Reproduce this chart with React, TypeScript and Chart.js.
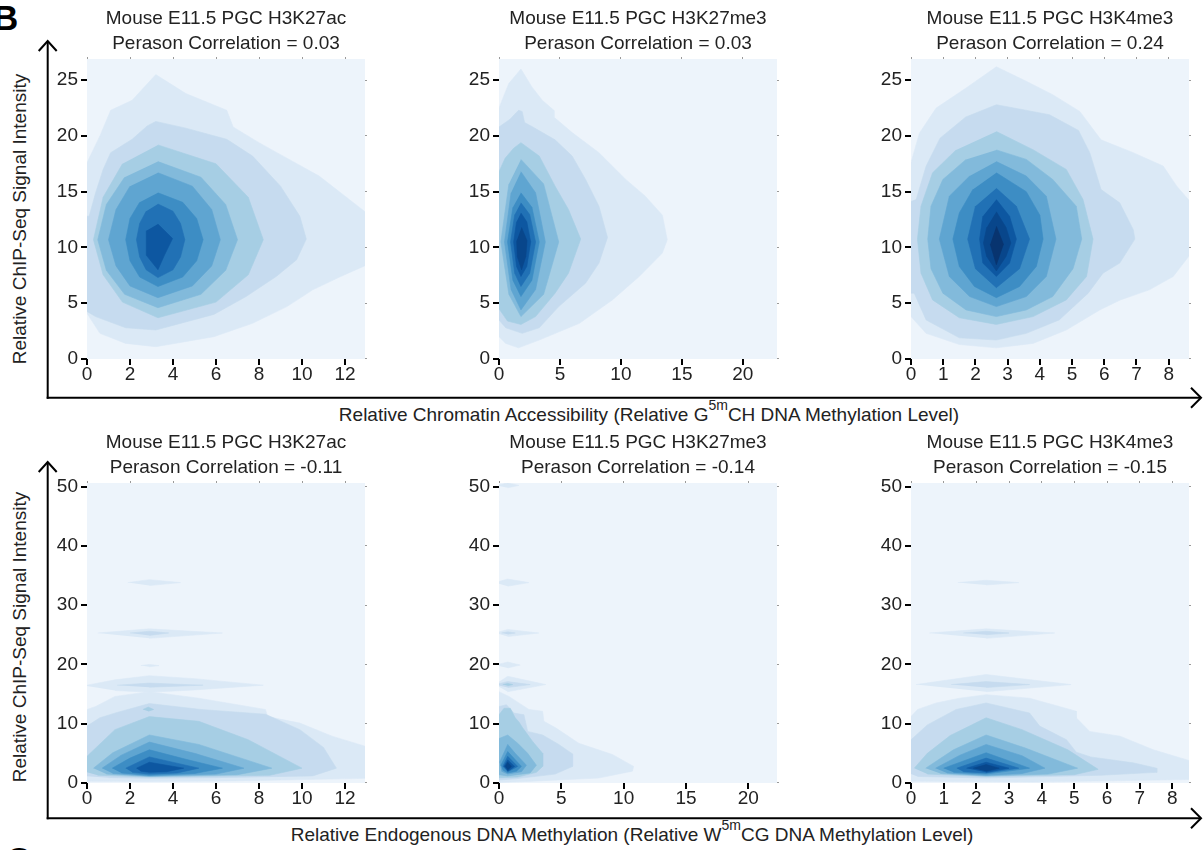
import React, { useEffect, useRef } from "react";
import { Chart, registerables } from "chart.js";

Chart.register(...registerables);

const FONT = "'Liberation Sans', Arial, Helvetica, sans-serif";
const TEXT = "#222222";

// ---------- categories / labels ----------
const MARKS = ["H3K27ac", "H3K27me3", "H3K4me3"];
const CORR_TOP = ["0.03", "0.03", "0.24"];
const CORR_BOTTOM = ["-0.11", "-0.14", "-0.15"];

// ---------- tick values ----------
const X_TICKS_AC = [0, 2, 4, 6, 8, 10, 12];
const X_TICKS_ME3 = [0, 5, 10, 15, 20];
const X_TICKS_K4 = [0, 1, 2, 3, 4, 5, 6, 7, 8];
const Y_TICKS_TOP = [0, 5, 10, 15, 20, 25];
const Y_TICKS_BOTTOM = [0, 10, 20, 30, 40, 50];

// ---------- axis ranges ----------
const X_MAX_TOP = [12.93, 22.8, 8.63];
const X_MAX_BOTTOM = [12.93, 22.3, 8.51];
const Y_MAX_TOP = 26.9;
const Y_MAX_BOTTOM = 50.6;

type Contour = { level: number; pts: number[][] };

// ---------- density contour outlines (x, y) ----------
const TOP_AC: Contour[] = [
  { level: 1, pts: [[-0.2, 17.6], [0, 17.6], [0.6, 20.0], [1.1, 22.3], [2.1, 23.2], [3.2, 25.5], [4.6, 23.8], [6.5, 22.3], [6.8, 20.8], [8.0, 19.4], [9.4, 17.9], [10.8, 16.4], [12.2, 14.3], [13.2, 12.8], [13.2, 8.6], [11.8, 7.4], [10.5, 6.2], [9.3, 4.7], [7.7, 3.2], [5.9, 2.0], [3.2, 1.1], [1.8, 1.4], [0.6, 2.3], [0, 4.1], [-0.2, 4.1]] },
  { level: 2, pts: [[-0.2, 12.8], [0.1, 12.8], [0.4, 14.9], [0.75, 17.0], [1.1, 18.5], [2.1, 19.7], [2.8, 20.9], [3.2, 21.3], [4.6, 20.7], [6.5, 19.7], [7.7, 18.2], [9.0, 15.5], [9.9, 12.8], [10.2, 10.75], [9.75, 8.9], [8.8, 7.4], [7.4, 5.6], [5.9, 4.0], [3.2, 2.6], [1.8, 2.8], [0.4, 3.8], [-0.2, 4.5]] },
  { level: 3, pts: [[3.3, 19.2], [6.0, 17.5], [7.5, 14.5], [8.2, 10.7], [7.5, 7.55], [6.0, 5.1], [3.3, 3.7], [1.65, 5.1], [0.75, 7.55], [0.3, 10.7], [0.75, 14.5], [1.65, 17.5]] },
  { level: 4, pts: [[3.3, 17.7], [5.3, 16.3], [6.45, 13.85], [7.0, 10.7], [6.45, 7.95], [5.3, 5.8], [3.3, 4.6], [1.75, 5.8], [0.9, 7.95], [0.5, 10.7], [0.9, 13.85], [1.75, 16.3]] },
  { level: 5, pts: [[3.3, 16.7], [4.9, 15.5], [5.8, 13.4], [6.2, 10.7], [5.8, 8.35], [4.9, 6.55], [3.3, 5.5], [2.0, 6.55], [1.35, 8.35], [1.0, 10.7], [1.35, 13.4], [2.0, 15.5]] },
  { level: 6, pts: [[3.3, 14.9], [4.45, 14.05], [5.1, 12.6], [5.4, 10.7], [5.1, 8.8], [4.45, 7.35], [3.3, 6.5], [2.45, 7.35], [2.0, 8.8], [1.8, 10.7], [2.0, 12.6], [2.45, 14.05]] },
  { level: 7, pts: [[3.3, 13.9], [4.0, 13.25], [4.35, 12.15], [4.55, 10.7], [4.35, 9.15], [4.0, 8.0], [3.3, 7.3], [2.75, 8.0], [2.45, 9.15], [2.3, 10.7], [2.45, 12.15], [2.75, 13.25]] },
  { level: 8, pts: [[3.3, 12.1], [3.98, 10.8], [3.6, 9.3], [3.3, 8.0], [2.76, 9.3], [2.76, 11.5]] },
];

const TOP_ME3: Contour[] = [
  { level: 1, pts: [[-0.3, 22.5], [0, 22.5], [0.8, 24.7], [1.8, 26.0], [2.7, 24.4], [3.55, 23.2], [4.5, 22.3], [4.5, 21.7], [6.0, 20.3], [8.2, 18.5], [10.4, 16.1], [12.0, 14.6], [13.4, 12.9], [13.8, 10.7], [13.4, 9.5], [11.5, 7.4], [9.3, 5.3], [6.6, 3.2], [3.3, 1.7], [1.6, 1.0], [0.55, 1.4], [0, 2.0], [-0.3, 2.0]] },
  { level: 2, pts: [[-0.3, 20.8], [0, 20.8], [0.9, 21.5], [1.6, 22.3], [1.9, 22.2], [2.1, 21.2], [2.7, 20.85], [4.6, 19.65], [6.0, 18.2], [7.1, 16.1], [8.2, 13.7], [8.9, 10.9], [8.2, 8.6], [7.1, 6.8], [4.9, 4.7], [3.3, 2.8], [1.9, 2.3], [0.55, 2.8], [0, 3.5], [-0.3, 3.5]] },
  { level: 3, pts: [[-0.3, 16.8], [0, 16.8], [0.5, 18.0], [1.2, 18.9], [1.8, 19.4], [3.3, 18.2], [4.6, 15.5], [5.7, 13.4], [6.7, 10.75], [5.7, 7.7], [4.6, 5.9], [3.0, 3.8], [1.8, 3.1], [0.7, 3.4], [0, 4.5], [-0.3, 4.5]] },
  { level: 4, pts: [[1.8, 17.9], [3.66, 15.7], [4.9, 10.5], [3.66, 5.8], [1.8, 3.8], [0.81, 5.8], [0.15, 10.5], [0.81, 15.7]] },
  { level: 5, pts: [[1.8, 16.8], [3.0, 14.9], [3.8, 10.5], [3.0, 6.23], [1.8, 4.4], [0.99, 6.23], [0.45, 10.5], [0.99, 14.9]] },
  { level: 6, pts: [[1.8, 14.9], [2.7, 13.6], [3.3, 10.5], [2.7, 7.07], [1.8, 5.6], [1.14, 7.07], [0.7, 10.5], [1.14, 13.6]] },
  { level: 7, pts: [[1.8, 14.0], [2.52, 12.95], [3.0, 10.5], [2.52, 7.7], [1.8, 6.5], [1.29, 7.7], [0.95, 10.5], [1.29, 12.95]] },
  { level: 8, pts: [[1.8, 13.1], [2.28, 12.3], [2.6, 10.5], [2.28, 8.3], [1.8, 7.4], [1.44, 8.3], [1.2, 10.5], [1.44, 12.3]] },
  { level: 9, pts: [[1.85, 11.8], [2.3, 10.6], [2.2, 9.2], [1.85, 8.0], [1.5, 9.2], [1.45, 10.6]] },
];

const TOP_K4: Contour[] = [
  { level: 1, pts: [[-0.1, 17.6], [0, 17.6], [0.26, 20.25], [0.78, 22.5], [1.71, 24.3], [2.65, 26.2], [3.58, 24.9], [4.4, 23.7], [5.24, 22.2], [5.9, 19.65], [6.9, 18.5], [7.83, 17.3], [8.25, 15.5], [8.7, 14.0], [8.7, 9.5], [8.14, 7.4], [7.4, 6.2], [6.5, 5.3], [5.86, 4.4], [4.82, 2.6], [3.79, 1.4], [2.65, 1.0], [1.5, 1.3], [0.47, 2.3], [0, 3.8], [-0.1, 3.8]] },
  { level: 2, pts: [[-0.1, 5.9], [0.1, 5.9], [0.47, 3.5], [1.5, 1.9], [2.65, 1.7], [3.58, 2.3], [4.6, 3.5], [5.5, 5.9], [5.96, 7.7], [6.48, 8.6], [6.95, 10.75], [6.9, 11.6], [6.48, 14.0], [5.9, 15.2], [5.55, 18.5], [5.2, 20.5], [4.3, 21.9], [3.4, 22.4], [2.65, 22.8], [1.7, 21.7], [0.9, 19.8], [0.47, 17.3], [0.16, 14.3], [-0.1, 14.0]] },
  { level: 3, pts: [[2.65, 20.4], [3.8, 18.75], [4.82, 17.0], [5.34, 14.3], [5.65, 10.75], [5.45, 7.4], [4.82, 5.3], [3.79, 3.8], [2.65, 3.1], [1.5, 3.7], [0.67, 5.3], [0.31, 7.7], [0.2, 10.75], [0.31, 13.7], [0.67, 16.7], [1.4, 18.75]] },
  { level: 4, pts: [[2.65, 18.75], [3.58, 17.9], [4.4, 16.1], [5.13, 13.7], [5.3, 10.75], [5.03, 8.1], [4.4, 5.6], [3.58, 4.4], [2.65, 3.8], [1.71, 4.4], [0.99, 5.9], [0.62, 8.1], [0.52, 10.75], [0.62, 13.7], [0.99, 16.1], [1.71, 17.9]] },
  { level: 5, pts: [[2.65, 17.7], [3.58, 16.4], [4.2, 14.6], [4.5, 10.75], [4.2, 7.4], [3.58, 5.6], [2.65, 4.7], [1.82, 5.6], [1.19, 7.4], [0.88, 10.75], [1.19, 14.6], [1.82, 16.4]] },
  { level: 6, pts: [[2.65, 16.7], [3.58, 15.0], [4.0, 12.9], [4.1, 10.75], [3.89, 8.3], [3.37, 6.5], [2.65, 5.5], [1.97, 6.5], [1.5, 8.3], [1.3, 10.75], [1.5, 13.1], [1.92, 15.2]] },
  { level: 7, pts: [[2.65, 15.3], [3.27, 13.7], [3.68, 10.75], [3.37, 8.1], [2.65, 6.4], [2.0, 8.1], [1.76, 10.75], [2.0, 13.7]] },
  { level: 8, pts: [[2.65, 14.3], [3.06, 12.8], [3.27, 10.75], [3.06, 8.6], [2.65, 7.4], [2.23, 8.6], [2.13, 10.75], [2.23, 12.8]] },
  { level: 9, pts: [[2.65, 13.2], [2.95, 11.8], [3.1, 10.4], [2.95, 9.2], [2.65, 7.9], [2.35, 9.2], [2.25, 10.4], [2.35, 11.8]] },
  { level: 10, pts: [[2.65, 11.9], [2.87, 10.3], [2.65, 8.45], [2.46, 10.3]] },
];

const BOTTOM_AC: Contour[] = [
  { level: 1, pts: [[-0.2, 0.3], [-0.2, 12.4], [0, 12.4], [0.4, 12.9], [1.3, 14.6], [2.9, 15.4], [5.2, 14.3], [8.3, 12.4], [8.4, 11.2], [9.9, 10.1], [11.4, 7.9], [13.2, 5.9], [13.2, 0.8], [6.8, 0.35], [2.9, 0.25], [0, 0.3]] },
  { level: 1, pts: [[-0.2, 16.5], [0, 16.5], [1.3, 17.4], [2.9, 18.1], [5.0, 17.6], [8.2, 16.5], [5.0, 15.7], [2.9, 15.3], [1.3, 15.6]] },
  { level: 1, pts: [[0.5, 25.3], [2.9, 26.0], [6.3, 25.3], [2.9, 24.4]] },
  { level: 1, pts: [[1.9, 33.8], [2.9, 34.3], [4.35, 33.8], [2.9, 33.3]] },
  { level: 1, pts: [[2.5, 19.8], [2.9, 20.0], [3.35, 19.8], [2.9, 19.6]] },
  { level: 2, pts: [[1.4, 16.5], [2.9, 16.85], [5.4, 16.5], [2.9, 16.15]] },
  { level: 2, pts: [[2.0, 25.3], [2.9, 25.6], [3.8, 25.3], [2.9, 24.9]] },
  { level: 2, pts: [[-0.2, 1.2], [-0.2, 9.6], [0, 9.6], [0.6, 11.0], [1.4, 11.9], [2.9, 13.4], [5.3, 12.4], [8.3, 11.6], [9.9, 9.0], [11.0, 6.0], [11.6, 2.5], [10.5, 1.2], [6.0, 0.9], [2.9, 0.8], [1.0, 0.9]] },
  { level: 3, pts: [[2.6, 12.4], [2.85, 12.8], [3.1, 12.4], [2.85, 12.1]] },
  { level: 3, pts: [[-0.2, 2.0], [-0.2, 4.5], [0, 4.5], [1.3, 9.0], [2.9, 11.2], [5.2, 10.4], [7.5, 7.3], [10.0, 2.5], [8.5, 1.3], [2.9, 1.0], [0.5, 1.3]] },
  { level: 4, pts: [[0.3, 2.5], [1.2, 5.1], [2.9, 8.1], [5.2, 6.5], [8.6, 2.5], [7.0, 1.4], [2.9, 1.1], [0.9, 1.5]] },
  { level: 5, pts: [[0.7, 2.5], [1.6, 4.7], [2.9, 6.9], [5.0, 5.0], [7.3, 2.5], [6.0, 1.5], [2.9, 1.2], [1.2, 1.6]] },
  { level: 6, pts: [[1.17, 2.5], [2.0, 4.2], [2.9, 5.6], [4.6, 4.0], [6.3, 2.5], [5.0, 1.6], [2.9, 1.3], [1.6, 1.7]] },
  { level: 7, pts: [[1.8, 2.5], [2.9, 4.4], [5.2, 2.5], [4.2, 1.7], [2.9, 1.5], [2.1, 1.8]] },
  { level: 8, pts: [[2.3, 2.5], [2.9, 3.5], [4.5, 2.5], [3.7, 1.9], [2.9, 1.8], [2.5, 2.0]] },
];

const BOTTOM_ME3: Contour[] = [
  { level: 1, pts: [[-0.3, 0.1], [-0.3, 15.4], [0, 15.4], [0.8, 14.6], [2.4, 12.4], [3.5, 12.1], [3.6, 10.4], [4.55, 9.3], [6.4, 6.7], [9.1, 4.8], [10.8, 2.8], [10.7, 2.0], [8.0, 0.84], [2.7, 0.3], [0, 0.1]] },
  { level: 1, pts: [[-0.3, 50.2], [0.7, 50.6], [1.6, 50.2], [0.7, 49.8]] },
  { level: 1, pts: [[-0.3, 33.8], [0.7, 34.4], [2.4, 33.8], [0.7, 33.2]] },
  { level: 1, pts: [[-0.3, 25.3], [0.7, 25.9], [3.2, 25.3], [0.7, 24.7]] },
  { level: 1, pts: [[-0.3, 19.9], [0.7, 20.4], [1.7, 19.9], [0.7, 19.4]] },
  { level: 1, pts: [[-0.3, 16.6], [0.7, 18.0], [3.75, 16.6], [0.7, 15.4]] },
  { level: 2, pts: [[0.2, 25.3], [0.7, 25.5], [1.3, 25.3], [0.7, 25.1]] },
  { level: 2, pts: [[-0.3, 16.6], [0.7, 17.1], [2.5, 16.6], [0.7, 16.1]] },
  { level: 2, pts: [[-0.3, 0.5], [-0.3, 12.9], [0, 12.9], [0.6, 13.2], [1.2, 11.8], [2.0, 11.5], [2.3, 8.7], [3.5, 8.1], [4.8, 6.5], [5.9, 4.9], [5.9, 2.8], [4.5, 1.5], [1.3, 0.7], [0, 0.5]] },
  { level: 3, pts: [[0.3, 16.6], [0.7, 16.8], [1.1, 16.6], [0.7, 16.4]] },
  { level: 3, pts: [[-0.3, 0.9], [-0.3, 11.5], [0, 11.5], [0.4, 12.6], [0.9, 12.6], [1.3, 11.0], [1.6, 10.3], [1.9, 9.3], [2.7, 7.0], [3.5, 5.0], [3.5, 2.8], [3.0, 1.8], [1.5, 1.0], [0, 0.9]] },
  { level: 4, pts: [[-0.3, 1.4], [-0.3, 7.5], [0, 7.5], [0.7, 8.1], [1.5, 6.7], [2.3, 5.0], [3.0, 3.0], [2.5, 1.7], [0.7, 1.2], [0, 1.4]] },
  { level: 5, pts: [[0.05, 3.5], [0.7, 6.5], [1.3, 5.0], [2.2, 3.0], [1.8, 1.9], [0.7, 1.5], [0.2, 2.0]] },
  { level: 6, pts: [[0.15, 3.0], [0.7, 5.3], [1.8, 2.8], [1.4, 2.0], [0.7, 1.7], [0.3, 2.2]] },
  { level: 7, pts: [[0.3, 2.8], [0.7, 4.5], [1.5, 2.8], [0.7, 1.9]] },
  { level: 8, pts: [[0.4, 2.8], [0.7, 3.9], [1.25, 2.8], [0.7, 2.0]] },
  { level: 9, pts: [[0.5, 2.8], [0.7, 3.5], [1.0, 2.8], [0.7, 2.2]] },
];

const BOTTOM_K4: Contour[] = [
  { level: 1, pts: [[-0.1, 0.3], [-0.1, 11.2], [0, 11.2], [0.2, 12.4], [0.77, 13.5], [1.48, 14.3], [2.3, 14.9], [3.63, 14.3], [4.35, 13.2], [5.06, 12.1], [5.06, 11.0], [5.47, 8.7], [6.4, 7.9], [7.42, 5.6], [8.6, 3.65], [8.6, 0.6], [3.7, 0.15], [0, 0.3]] },
  { level: 1, pts: [[1.43, 33.8], [2.3, 34.2], [3.3, 33.8], [2.3, 33.4]] },
  { level: 1, pts: [[0.56, 25.3], [2.3, 26.0], [4.4, 25.3], [2.3, 24.4]] },
  { level: 1, pts: [[0.15, 16.6], [2.3, 18.3], [4.9, 16.6], [2.3, 15.4]] },
  { level: 2, pts: [[1.6, 25.3], [2.3, 25.6], [3.0, 25.3], [2.3, 25.0]] },
  { level: 2, pts: [[1.23, 16.6], [2.3, 17.1], [3.63, 16.6], [2.3, 16.1]] },
  { level: 2, pts: [[-0.1, 1.7], [-0.1, 7.3], [0, 7.3], [0.5, 9.8], [1.38, 12.4], [2.3, 13.5], [3.63, 11.8], [3.94, 9.6], [4.76, 7.3], [5.06, 5.2], [5.5, 4.4], [6.8, 3.4], [7.52, 2.5], [7.52, 1.8], [5.8, 1.3], [2.3, 0.84], [0.2, 1.1]] },
  { level: 3, pts: [[0.1, 2.5], [0.5, 5.0], [1.2, 8.0], [2.3, 11.0], [3.4, 9.0], [4.8, 5.6], [5.73, 2.3], [5.0, 1.4], [2.3, 1.1], [0.5, 1.5]] },
  { level: 4, pts: [[0.45, 2.5], [1.3, 5.6], [2.3, 8.1], [3.5, 5.9], [5.1, 2.5], [4.2, 1.5], [2.3, 1.2], [0.9, 1.6]] },
  { level: 5, pts: [[0.75, 2.5], [1.5, 4.7], [2.3, 6.5], [3.4, 4.6], [4.1, 2.5], [3.4, 1.6], [2.3, 1.3], [1.1, 1.7]] },
  { level: 6, pts: [[1.0, 2.5], [2.3, 5.1], [3.63, 2.5], [2.3, 1.5], [1.3, 1.8]] },
  { level: 7, pts: [[1.4, 2.5], [2.3, 4.2], [3.3, 2.5], [2.3, 1.7], [1.6, 1.9]] },
  { level: 8, pts: [[1.7, 2.5], [2.3, 3.5], [3.0, 2.5], [2.3, 1.8]] },
  { level: 9, pts: [[1.9, 2.5], [2.3, 3.1], [2.7, 2.5], [2.3, 2.0]] },
];

// ---------- style ----------
const BLUES = ["#edf4fb", "#dbe9f6", "#c6dbef", "#a6cee4", "#82badb", "#5fa5d1", "#3d8dc4", "#2171b5", "#0d57a1", "#08468b", "#08346f"];

const CANVAS_W = 398;
const CANVAS_H = 393;

const plotBg = {
  id: "plotBg",
  beforeDatasetsDraw(chart: any) {
    const { ctx, chartArea: a } = chart;
    ctx.save();
    ctx.fillStyle = BLUES[0];
    ctx.fillRect(a.left, a.top, a.right - a.left, a.bottom - a.top);
    ctx.restore();
  },
};

type PanelProps = {
  left: number;
  top: number;
  title: string[];
  xMax: number;
  yMax: number;
  xTicks: number[];
  yTicks: number[];
  contours: Contour[];
};

function Panel({ left, top, title, xMax, yMax, xTicks, yTicks, contours }: PanelProps) {
  const ref = useRef<HTMLCanvasElement>(null);
  useEffect(() => {
    const tickFont = { family: FONT, size: 19, lineHeight: 1 };
    const datasets = contours.map((c) => ({
      data: c.pts.map(([x, y]) => ({ x, y })),
      showLine: true,
      fill: "shape",
      backgroundColor: BLUES[c.level],
      borderColor: BLUES[c.level],
      borderWidth: 0.6,
      pointRadius: 0,
      pointHoverRadius: 0,
      tension: 0,
      order: 100 - c.level,
    }));
    const mainGrid = { display: true, drawOnChartArea: false, drawTicks: true, tickLength: 6, color: "#000", lineWidth: 2 };
    const minorGrid = { display: true, drawOnChartArea: false, drawTicks: true, tickLength: 2, color: "#9a9a9a", lineWidth: 1 };
    const chart = new Chart(ref.current as HTMLCanvasElement, {
      type: "scatter",
      data: { datasets: datasets as any },
      options: {
        responsive: false,
        animation: false,
        events: [],
        layout: { padding: 0 },
        plugins: {
          legend: { display: false },
          tooltip: { enabled: false },
          title: {
            display: true,
            text: title,
            color: TEXT,
            font: { family: FONT, size: 19, weight: "normal", lineHeight: 1.316 },
            padding: { top: 0, bottom: 0 },
          },
        },
        scales: {
          x: {
            type: "linear",
            position: "bottom",
            min: 0,
            max: xMax,
            afterFit: (s: any) => { s.height = 40; },
            afterBuildTicks: (s: any) => { s.ticks = xTicks.map((v) => ({ value: v })); },
            ticks: { font: tickFont, color: TEXT, padding: 0, maxRotation: 0, autoSkip: false },
            grid: mainGrid,
            border: { display: false },
          },
          y: {
            type: "linear",
            position: "left",
            min: 0,
            max: yMax,
            afterFit: (s: any) => { s.width = 60; },
            afterBuildTicks: (s: any) => { s.ticks = yTicks.map((v) => ({ value: v })); },
            ticks: { font: tickFont, color: TEXT, padding: 3, autoSkip: false },
            grid: mainGrid,
            border: { display: false },
          },
          x2: {
            type: "linear",
            position: "top",
            min: 0,
            max: xMax,
            afterFit: (s: any) => { s.height = 3; },
            afterBuildTicks: (s: any) => { s.ticks = xTicks.map((v) => ({ value: v })); },
            ticks: { display: false },
            grid: minorGrid,
            border: { display: false },
          },
          y2: {
            type: "linear",
            position: "right",
            min: 0,
            max: yMax,
            afterFit: (s: any) => { s.width = 60; },
            afterBuildTicks: (s: any) => { s.ticks = yTicks.map((v) => ({ value: v })); },
            ticks: { display: false },
            grid: minorGrid,
            border: { display: false },
          },
        },
      } as any,
      plugins: [plotBg],
    });
    return () => chart.destroy();
  }, []);
  return (
    <canvas
      ref={ref}
      width={CANVAS_W}
      height={CANVAS_H}
      style={{ position: "absolute", left, top, width: CANVAS_W, height: CANVAS_H }}
    />
  );
}

const PLOT_LEFTS = [87, 499, 911];
const ROW_TOPS = [6, 430];
const TOP_CONTOURS = [TOP_AC, TOP_ME3, TOP_K4];
const BOTTOM_CONTOURS = [BOTTOM_AC, BOTTOM_ME3, BOTTOM_K4];
const X_TICKS = [X_TICKS_AC, X_TICKS_ME3, X_TICKS_K4];

export default function App() {
  const txt = { fontFamily: FONT, fill: TEXT } as any;
  return (
    <div style={{ position: "absolute", left: 0, top: 0, width: 1203, height: 850, overflow: "hidden", background: "#fff" }}>
      <svg width={1203} height={850} style={{ position: "absolute", left: 0, top: 0 }}>
        <text x={-7} y={30} fontFamily={FONT} fontWeight="bold" fontSize={35} fill="#000">B</text>
        <text x={6} y={872} fontFamily={FONT} fontWeight="bold" fontSize={35} fill="#000">C</text>
        {/* top row arrows */}
        <line x1={47.7} y1={41} x2={47.7} y2={398.7} stroke="#000" strokeWidth={2} />
        <polyline points="38.7,51 47.7,41 56.7,51" fill="none" stroke="#000" strokeWidth={2} />
        <line x1={46.7} y1={397.7} x2={1201} y2={397.7} stroke="#000" strokeWidth={2} />
        <polyline points="1191,387.7 1201,397.7 1191,407.7" fill="none" stroke="#000" strokeWidth={2} />
        {/* bottom row arrows */}
        <line x1={47.7} y1={462} x2={47.7} y2={819.3} stroke="#000" strokeWidth={2} />
        <polyline points="38.7,472 47.7,462 56.7,472" fill="none" stroke="#000" strokeWidth={2} />
        <line x1={46.7} y1={818.3} x2={1201} y2={818.3} stroke="#000" strokeWidth={2} />
        <polyline points="1191,808.3 1201,818.3 1191,828.3" fill="none" stroke="#000" strokeWidth={2} />
        {/* axis titles */}
        <text {...txt} fontSize={19} textAnchor="middle" transform="translate(25.5,219) rotate(-90)">Relative ChIP-Seq Signal Intensity</text>
        <text {...txt} fontSize={19} textAnchor="middle" transform="translate(25.5,637) rotate(-90)">Relative ChIP-Seq Signal Intensity</text>
        <text {...txt} fontSize={19} textAnchor="middle" x={649} y={421}>
          Relative Chromatin Accessibility (Relative G<tspan dy={-11} fontSize={14}>5m</tspan><tspan dy={11}>CH DNA Methylation Level)</tspan>
        </text>
        <text {...txt} fontSize={19} textAnchor="middle" x={632} y={841}>
          Relative Endogenous DNA Methylation (Relative W<tspan dy={-11} fontSize={14}>5m</tspan><tspan dy={11}>CG DNA Methylation Level)</tspan>
        </text>
      </svg>
      {MARKS.map((m, i) => (
        <Panel
          key={"t" + i}
          left={PLOT_LEFTS[i] - 60}
          top={ROW_TOPS[0]}
          title={["Mouse E11.5 PGC " + m, "Perason Correlation = " + CORR_TOP[i]]}
          xMax={X_MAX_TOP[i]}
          yMax={Y_MAX_TOP}
          xTicks={X_TICKS[i]}
          yTicks={Y_TICKS_TOP}
          contours={TOP_CONTOURS[i]}
        />
      ))}
      {MARKS.map((m, i) => (
        <Panel
          key={"b" + i}
          left={PLOT_LEFTS[i] - 60}
          top={ROW_TOPS[1]}
          title={["Mouse E11.5 PGC " + m, "Perason Correlation = " + CORR_BOTTOM[i]]}
          xMax={X_MAX_BOTTOM[i]}
          yMax={Y_MAX_BOTTOM}
          xTicks={X_TICKS[i]}
          yTicks={Y_TICKS_BOTTOM}
          contours={BOTTOM_CONTOURS[i]}
        />
      ))}
    </div>
  );
}
